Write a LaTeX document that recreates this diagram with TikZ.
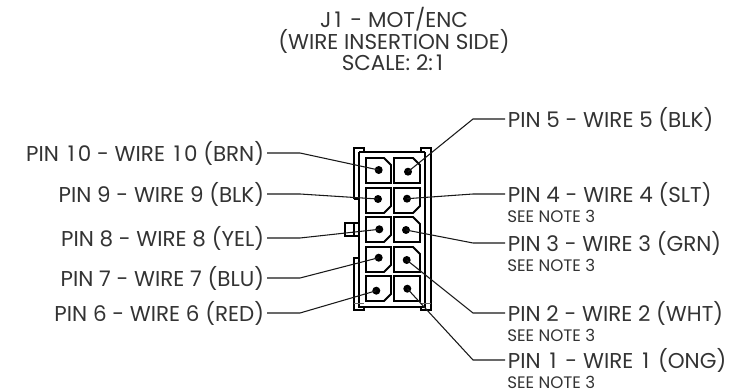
\documentclass[tikz,border=0pt]{standalone}
\usepackage{fontspec}
\setmainfont{Poppins}
\newcommand{\wone}{\makebox[0.62em][c]{1}}
\begin{document}
\begin{tikzpicture}[x=0.75pt,y=-0.75pt,
 big/.style={inner sep=0pt,outer xsep=2.2pt,font=\fontsize{16.1}{16.1}\selectfont,text=black!80},
 ttl/.style={inner sep=0pt,font=\fontsize{16.1}{16.1}\selectfont,text=black!80},
 nt/.style={inner sep=0pt,anchor=west,font=\fontsize{12.5}{12.5}\selectfont,text=black!80},
 leader/.style={line width=0.8pt,black!90},
 hv/.style={line width=1.4pt,line join=miter,black},
 pin/.style={circle,fill=black,inner sep=0pt,minimum size=6pt}]
\useasboundingbox (0,0) rectangle (752,392);
% title
\node[ttl] (t1) at (394,19) {J\wone{} - MOT/ENC};
\node[ttl] (t2) at (394,41) {(WIRE INSERTION SIDE)};
\node[ttl] (t3) at (394,63) {SCALE: 2:\wone};
% housing
\draw[hv] (359,152) -- (425,152) (359,152) -- (359,307) -- (425,307) -- (425,152);
\draw[hv] (354,199) -- (354,148) -- (364,148) -- (364,152);
\draw[hv] (359,199) -- (354,199);
\draw[hv] (431,152) -- (431,148) -- (421,148) -- (421,152);
\draw[hv] (431,148) -- (431,310) -- (421,310) -- (421,307);
\draw[hv] (359,258) -- (354,258) -- (354,310) -- (364,310) -- (364,307);
\draw[line width=0.6pt,black!60] (354,303) -- (364,303) (421,303) -- (431,303);
\draw[hv] (359,223) -- (345,223) -- (345,236) -- (359,236) (354,223) -- (354,236);
% cavities, left column
\draw[hv] (366,158) -- (384,158) -- (391,165) -- (391,183) -- (366,183) -- cycle;
\draw[hv] (366,188) -- (391,188) -- (391,206) -- (384,213) -- (366,213) -- cycle;
\draw[hv] (366,217) -- (391,217) -- (391,235) -- (384,242) -- (366,242) -- cycle;
\draw[hv] (366,247) -- (391,247) -- (391,265) -- (384,272) -- (366,272) -- cycle;
\draw[hv] (366,276) -- (391,276) -- (391,294) -- (384,301) -- (366,301) -- cycle;
% cavities, right column
\draw[hv] (394,158) -- (413,158) -- (420,165) -- (420,183) -- (394,183) -- cycle;
\draw[hv] (394,188) -- (420,188) -- (420,206) -- (413,213) -- (394,213) -- cycle;
\draw[hv] (394,217) -- (413,217) -- (420,224) -- (420,242) -- (394,242) -- cycle;
\draw[hv] (394,247) -- (413,247) -- (420,254) -- (420,272) -- (394,272) -- cycle;
\draw[hv] (394,276) -- (420,276) -- (420,301) -- (394,301) -- cycle;
% pins
\node[pin] (p10) at (378.7,170) {};
\node[pin] (p5) at (408,171.7) {};
\node[pin] (p9) at (378,199) {};
\node[pin] (p4) at (407,198.7) {};
\node[pin] (p8) at (379.3,229.3) {};
\node[pin] (p3) at (406,230) {};
\node[pin] (p7) at (378.7,257.7) {};
\node[pin] (p2) at (406.7,260) {};
\node[pin] (p6) at (376.3,290.7) {};
\node[pin] (p1) at (407.3,288.7) {};
% left labels
\node[big,anchor=east] (l10) at (267,153) {PIN \wone 0 - WIRE \wone 0 (BRN)};
\node[big,anchor=east] (l9) at (267,194) {PIN 9 - WIRE 9 (BLK)};
\node[big,anchor=east] (l8) at (267,238) {PIN 8 - WIRE 8 (YEL)};
\node[big,anchor=east] (l7) at (267,278) {PIN 7 - WIRE 7 (BLU)};
\node[big,anchor=east] (l6) at (267,313) {PIN 6 - WIRE 6 (RED)};
% right labels
\node[big,anchor=west] (l5) at (505,119) {PIN 5 - WIRE 5 (BLK)};
\node[big,anchor=west] (l4) at (505,194) {PIN 4 - WIRE 4 (SLT)};
\node[big,anchor=west] (l3) at (505,243) {PIN 3 - WIRE 3 (GRN)};
\node[big,anchor=west] (l2) at (505,313) {PIN 2 - WIRE 2 (WHT)};
\node[big,anchor=west] (l1) at (505,360) {PIN \wone{} - WIRE \wone{} (ONG)};
\node[nt] (n4) at (507,216) {SEE NOTE 3};
\node[nt] (n3) at (507,265) {SEE NOTE 3};
\node[nt] (n2) at (507,335) {SEE NOTE 3};
\node[nt] (n1) at (507,382) {SEE NOTE 3};
% bends
\foreach \n/\y in {10/153,9/194,8/238,7/278,6/313} \coordinate (b\n) at (300,\y);
\foreach \n/\y in {5/119,4/194,3/243,2/313,1/360} \coordinate (b\n) at (473,\y);
% leaders
\foreach \n in {1,...,10} \draw[leader] (l\n) -- (b\n) -- (p\n.center);
\end{tikzpicture}
\end{document}
